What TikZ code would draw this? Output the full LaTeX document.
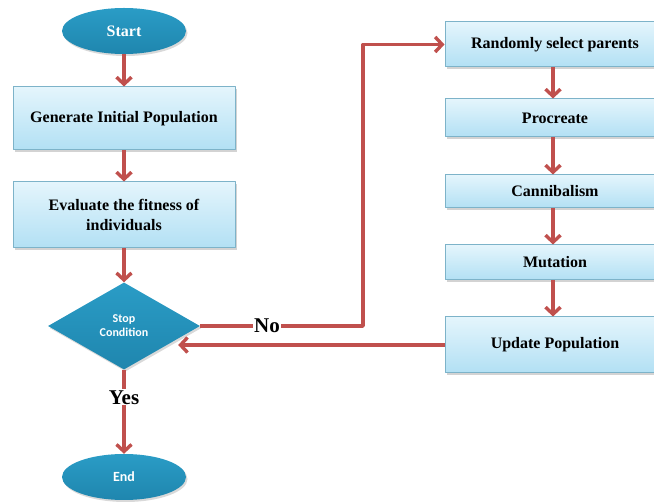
\documentclass[tikz,border=0pt]{standalone}
\usepackage{fontspec}
\setmainfont{Liberation Serif}
\newfontfamily\calibri{Carlito}
\usetikzlibrary{shapes.geometric,arrows.meta,shadows}
\definecolor{boxtop}{HTML}{E4F5FC}
\definecolor{boxbot}{HTML}{B2E0F4}
\definecolor{boxline}{HTML}{7DB3C9}
\definecolor{termfill}{HTML}{2A9CC6}
\definecolor{termdark}{HTML}{1F86AE}
\definecolor{arrowred}{HTML}{C0504D}
\begin{document}
\begin{tikzpicture}[x=1pt, y={(0pt,-1pt)}, line join=round,
	blockbox/.style={draw=boxline, line width=1pt, top color=boxtop, bottom color=boxbot,
		minimum width=222pt, inner sep=2pt, align=center, font=\bfseries\fontsize{16}{20}\selectfont,
		drop shadow={shadow xshift=1.5pt, shadow yshift=-2pt, opacity=0.35}},
	terminal/.style={ellipse, top color=termfill, bottom color=termdark, draw=none,
		text=white, minimum width=124pt, minimum height=46pt, inner sep=0pt,
		drop shadow={shadow xshift=1.5pt, shadow yshift=-2pt, opacity=0.3}},
	decision/.style={diamond, top color=termfill, bottom color=termdark, draw=none,
		text=white, minimum width=152pt, minimum height=87pt, inner sep=0pt, align=center,
		font=\calibri\bfseries\fontsize{12}{14}\selectfont,
		drop shadow={shadow xshift=1.5pt, shadow yshift=-2pt, opacity=0.3}},
	flowarrow/.style={draw=arrowred, line width=3.4pt, -{Straight Barb[length=7pt,width=15pt,line width=3.4pt]}},
	answer/.style={font=\bfseries\fontsize{21}{21}\selectfont, inner sep=1pt}]
	\clip (0,0) rectangle (654,502);
	\def\xl{124} \def\xr{555} % columns
	% left column
	\node[terminal, font=\bfseries\fontsize{16}{16}\selectfont] (start) at (\xl,31) {Start};
	\node[blockbox, minimum height=63pt] (gen) at (\xl,118.5) {Generate Initial Population};
	\node[blockbox, minimum height=66pt] (eval) at (\xl,215) {Evaluate the fitness of\\individuals};
	\node[decision] (stop) at (\xl,326) {Stop\\Condition};
	\node[terminal, font=\calibri\bfseries\fontsize{14}{14}\selectfont] (end) at (\xl,477) {End};
	% right column
	\node[blockbox, minimum height=45pt, minimum width=220pt] (rand) at (\xr,44.5) {Randomly select parents};
	\node[blockbox, minimum height=38pt, minimum width=220pt] (proc) at (\xr,118) {Procreate};
	\node[blockbox, minimum height=33pt, minimum width=220pt] (cann) at (\xr,191.5) {Cannibalism};
	\node[blockbox, minimum height=35pt, minimum width=220pt] (mut) at (\xr,262.5) {Mutation};
	\node[blockbox, minimum height=56pt, minimum width=220pt] (upd) at (\xr,345) {Update Population};
	\coordinate (turn) at (363,45);
	% arrows
	\draw[flowarrow] (start) -- (gen);
	\draw[flowarrow] (gen) -- (eval);
	\draw[flowarrow] (eval) -- (stop);
	\draw[flowarrow] (stop) -- node[answer, fill=white, pos=0.33] {Yes} (end);
	\draw[flowarrow] (stop.east) -- node[answer, fill=white, pos=0.41] {No} (stop.east -| turn) |- (rand.west);
	\foreach \a/\b in {rand/proc, proc/cann, cann/mut, mut/upd}
		\draw[flowarrow] ([xshift=-2pt]\a.south) -- ([xshift=-2pt]\b.north);
	\draw[flowarrow] (upd.west) -- ([xshift=-22pt]stop.east |- upd.west);
\end{tikzpicture}
\end{document}
